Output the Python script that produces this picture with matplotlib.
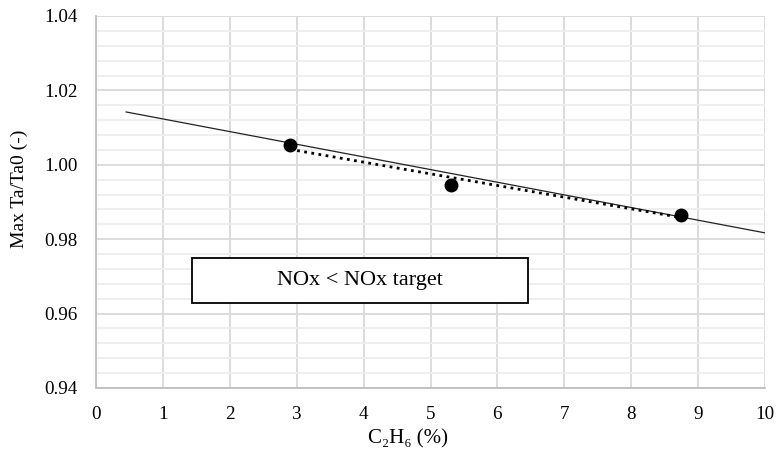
import matplotlib

matplotlib.use("Agg")

import matplotlib.pyplot as plt  # noqa: E402
import numpy as np  # noqa: E402
from matplotlib.patches import Rectangle  # noqa: E402
from matplotlib.ticker import MultipleLocator  # noqa: E402

# measured points
c2h6 = [2.9, 5.3, 8.75]
ta_ratio = [1.0053, 0.9947, 0.9866]

# solid reference line (end points)
ref_x = [0.45, 10.0]
ref_y = [1.0142, 0.9817]

x_ticks = [0, 1, 2, 3, 4, 5, 6, 7, 8, 9, 10]
y_ticks = [0.94, 0.96, 0.98, 1.00, 1.02, 1.04]

plt.rcParams["font.family"] = ["Liberation Serif", "DejaVu Serif"]

fig = plt.figure(figsize=(7.78, 4.53), dpi=100)
ax = fig.add_axes([0.1234, 0.1435, 0.8599, 0.8212])

ax.set_xlim(0, 10)
ax.set_ylim(0.94, 1.04)
ax.set_xticks(x_ticks)
ax.set_yticks(y_ticks)
ax.set_yticklabels([f"{v:.2f}" for v in y_ticks])
ax.yaxis.set_minor_locator(MultipleLocator(0.004))
ax.grid(which="major", color="#d9d9d9", linewidth=1.3, zorder=0)
ax.grid(which="minor", axis="y", color="#eeeeee", linewidth=1.3, zorder=0)
ax.tick_params(which="both", length=0, labelsize=13.7)
ax.tick_params(axis="y", pad=13)
ax.tick_params(axis="x", pad=13)
for side in ("top", "right"):
    ax.spines[side].set_visible(False)
for side in ("left", "bottom"):
    ax.spines[side].set_color("#bfbfbf")
    ax.spines[side].set_linewidth(1.3)
ax.set_axisbelow(True)

ax.plot(ref_x, ref_y, color="#222222", linewidth=0.9, zorder=3)

fit = np.polyfit(c2h6, ta_ratio, 1)
fx = np.array([min(c2h6), max(c2h6)])
ax.plot(fx, np.polyval(fit, fx), color="black", linewidth=2.0,
        linestyle=(0, (1, 1.6)), zorder=3)

ax.plot(c2h6, ta_ratio, "o", color="black", markersize=9, zorder=4)

ax.add_patch(Rectangle((1.43, 0.96285), 5.02, 0.0121, facecolor="white",
                       edgecolor="black", linewidth=1.3, zorder=5))
ax.text(3.94, 0.9689, "NOx < NOx target", ha="center", va="center",
        fontsize=16, zorder=6)

ax.set_xlabel("C₂H₆ (%)", fontsize=15)
ax.xaxis.set_label_coords(0.466, -0.11)
ax.set_ylabel("Max Ta/Ta0 (-)", fontsize=14)
ax.yaxis.set_label_coords(-0.102, 0.535)

fig.savefig("out.png", dpi=100)
